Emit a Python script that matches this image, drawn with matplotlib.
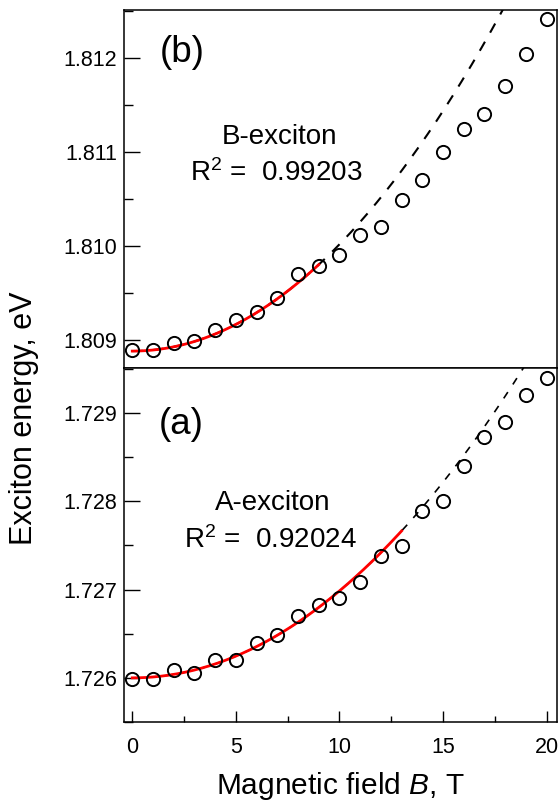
import numpy as np
import matplotlib
matplotlib.use("Agg")
import matplotlib.pyplot as plt
from matplotlib.ticker import MultipleLocator, FormatStrFormatter

plt.rcParams['font.family'] = ['Liberation Sans', 'DejaVu Sans']
plt.rcParams['mathtext.fontset'] = 'custom'
plt.rcParams['mathtext.rm'] = 'Liberation Sans'
plt.rcParams['mathtext.it'] = 'Liberation Sans:italic'

# Magnetic field, T
field = list(range(0, 21))

# B-exciton energies, eV (panel b)
energy_b = [1.80889, 1.80889, 1.80897, 1.80899, 1.80910, 1.80921, 1.80930,
            1.80945, 1.80970, 1.80979, 1.80990, 1.81012, 1.81020, 1.81049,
            1.81070, 1.81100, 1.81124, 1.81140, 1.81170, 1.81204, 1.81241]

# A-exciton energies, eV (panel a)
energy_a = [1.72599, 1.72599, 1.72609, 1.72605, 1.72620, 1.72620, 1.72639,
            1.72649, 1.72670, 1.72682, 1.72690, 1.72709, 1.72738, 1.72749,
            1.72789, 1.72800, 1.72840, 1.72873, 1.72890, 1.72920, 1.72940]

# Quadratic fit parameters E = E0 + c*B^2
fit_b = {"E0": 1.80888, "c": 1.136e-5, "Bmax": 9}
fit_a = {"E0": 1.72600, "c": 9.85e-6, "Bmax": 13}

labels_b = ("(b)", "B-exciton", "R$^2$ =  0.99203")
labels_a = ("(a)", "A-exciton", "R$^2$ =  0.92024")

W, H = 560, 802
fig = plt.figure(figsize=(W / 100, H / 100), dpi=100)
left, right = 124 / W, 557 / W
ax_b = fig.add_axes([left, 1 - 368 / H, right - left, 358 / H])
ax_a = fig.add_axes([left, 1 - 722 / H, right - left, 354 / H], sharex=ax_b)

def style(ax, ylim):
    ax.set_xlim(-0.4, 20.5)
    ax.set_ylim(*ylim)
    ax.yaxis.set_major_locator(MultipleLocator(0.001))
    ax.yaxis.set_minor_locator(MultipleLocator(0.0005))
    ax.yaxis.set_major_formatter(FormatStrFormatter('%.3f'))
    ax.xaxis.set_major_locator(MultipleLocator(5))
    ax.xaxis.set_minor_locator(MultipleLocator(2.5))
    ax.tick_params(axis='y', which='major', direction='in', length=11.5, width=1.0,
                   labelsize=15.5, pad=5, right=False)
    ax.tick_params(axis='y', which='minor', direction='in', length=6.5, width=1.0, right=False)
    ax.tick_params(axis='x', which='major', direction='in', length=8, width=1.0,
                   labelsize=15.5, pad=11, top=False)
    ax.tick_params(axis='x', which='minor', direction='in', length=4.2, width=1.0, top=False)
    for s in ax.spines.values():
        s.set_linewidth(1.1)

def draw(ax, energy, fit, dash, lw_dash):
    B = np.array(field, dtype=float)
    Bfull = np.linspace(0, 20.5, 300)
    Bfit = np.linspace(0, fit["Bmax"], 200)
    ax.plot(Bfull, fit["E0"] + fit["c"] * Bfull ** 2, color='black', lw=lw_dash,
            linestyle=(0, dash), zorder=2)
    ax.plot(Bfit, fit["E0"] + fit["c"] * Bfit ** 2, color='#ff0000', lw=2.0, zorder=3)
    ax.plot(B, energy, 'o', mfc='none', mec='black', ms=9.5, mew=1.4, zorder=4)

style(ax_b, (1.80870, 1.81251))
style(ax_a, (1.72550, 1.72951))
draw(ax_b, energy_b, fit_b, (5, 5), 1.5)
draw(ax_a, energy_a, fit_a, (4.5, 5.5), 1.2)

ax_b.tick_params(axis='x', which='both', bottom=False, labelbottom=False)

def px(ax, x, y):
    # figure pixel -> axes fraction
    bb = ax.get_position()
    fx, fy = x / W, 1 - y / H
    return (fx - bb.x0) / bb.width, (fy - bb.y0) / bb.height

ax_b.text(*px(ax_b, 182, 53), labels_b[0], transform=ax_b.transAxes, fontsize=26.5,
          ha='center', va='center')
ax_b.text(*px(ax_b, 280, 137), labels_b[1], transform=ax_b.transAxes, fontsize=20,
          ha='center', va='center')
ax_b.text(*px(ax_b, 276, 173), labels_b[2], transform=ax_b.transAxes, fontsize=20,
          ha='center', va='center')

ax_a.text(*px(ax_a, 181, 424), labels_a[0], transform=ax_a.transAxes, fontsize=26.5,
          ha='center', va='center')
ax_a.text(*px(ax_a, 273, 503), labels_a[1], transform=ax_a.transAxes, fontsize=20,
          ha='center', va='center')
ax_a.text(*px(ax_a, 270, 540), labels_a[2], transform=ax_a.transAxes, fontsize=20,
          ha='center', va='center')

fig.text(340 / W, 1 - 786 / H, 'Magnetic field $\\mathit{B}$, T', fontsize=21.5,
         ha='center', va='center')
fig.text(24 / W, 1 - 418 / H, 'Exciton energy, eV', rotation=90, fontsize=22,
         ha='center', va='center')

fig.savefig('out.png', dpi=100)
